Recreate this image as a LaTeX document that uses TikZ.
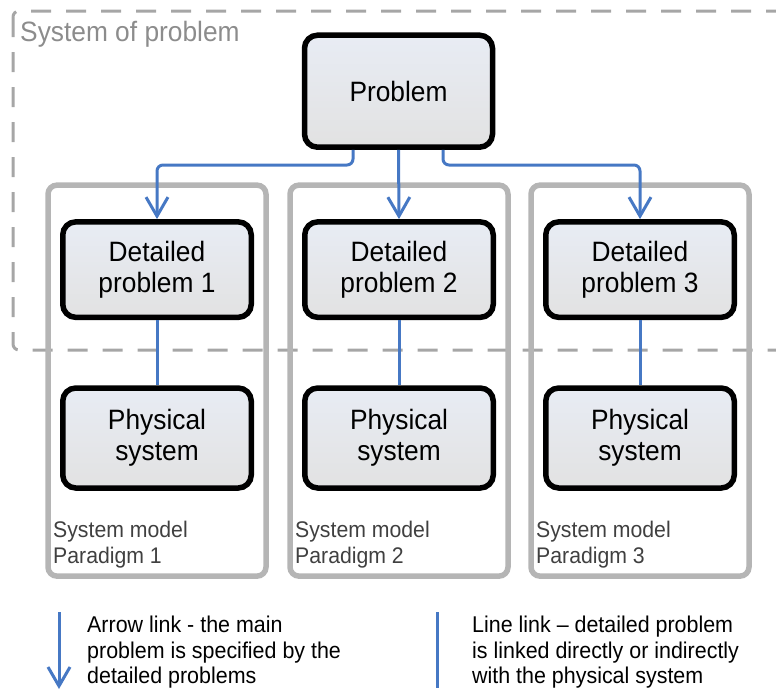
\documentclass[tikz,border=0pt]{standalone}
\usepackage{fontspec}
\setmainfont[FakeStretch=0.94]{Liberation Sans}
\usetikzlibrary{shapes,arrows.meta}

\definecolor{linkblue}{RGB}{70,120,196}
\definecolor{sysgrey}{RGB}{166,166,166}
\definecolor{pargrey}{RGB}{181,181,181}
\definecolor{labgrey}{RGB}{64,64,64}

\tikzset{
	mainbox/.style={draw=black, line width=5.5pt, rounded corners=13pt, top color={rgb,255:red,232;green,236;blue,244}, bottom color={rgb,255:red,226;green,226;blue,226}, minimum width=188.5pt, minimum height=95.5pt, align=center, font=\fontsize{28}{31}\selectfont},
	parbox/.style={draw=pargrey, line width=5.5pt, rounded corners=9pt, minimum width=218pt, minimum height=391pt},
	parlabel/.style={anchor=north west, align=left, inner sep=0pt, text=labgrey, font=\fontsize{22.6}{25.5}\selectfont},
	legtext/.style={anchor=north west, align=left, inner sep=0pt, font=\fontsize{22.8}{25.5}\selectfont},
	arrlink/.style={draw=linkblue, line width=3pt, rounded corners=6pt, -{Straight Barb[length=19pt,width=22pt,line width=3pt]}},
	linelink/.style={draw=linkblue, line width=3pt}
}

\begin{document}
\begin{tikzpicture}[x=1pt,y=-1pt]
		\clip (0,0) rectangle (776,691);

		\draw[sysgrey, line width=3pt, dash pattern=on 20pt off 15pt, rounded corners=6pt] (13,11) rectangle (820,350);
		\node[anchor=base west, inner sep=0pt, text={rgb,255:red,140;green,140;blue,140}, font=\fontsize{28}{30}\selectfont] (sysname) at (20,41) {System of problem};

		\foreach \i/\x in {1/157,2/399,3/640}{
			\node[parbox] (par\i) at (\x,380.6) {};
			\node[parlabel] (parlab\i) at (\x-104,521) {System model\\Paradigm \i};
			\node[mainbox] (det\i) at (\x,269.6) {Detailed\\problem \i};
			\node[mainbox, minimum height=100pt] (phy\i) at (\x,438) {Physical\\system};
			\draw[linelink] (det\i.south) -- (phy\i.north);
		}

		\node[mainbox, minimum width=188pt, minimum height=112pt] (prob) at (398.5,91.2) {Problem};

		\coordinate (j1) at (157,165);
		\coordinate (j3) at (640,165);
		\draw[arrlink] ([xshift=-45.5pt]prob.south) |- (j1) -- (det1.north);
		\draw[arrlink] (prob.south) -- (det2.north);
		\draw[arrlink] ([xshift=44.5pt]prob.south) |- (j3) -- (det3.north);

		\coordinate (la1) at (59,612);
		\coordinate (la2) at (59,689);
		\draw[arrlink] (la1) -- (la2);
		\node[legtext] (legarr) at (87,616) {Arrow link - the main\\problem is specified by the\\detailed problems};

		\coordinate (ll1) at (437,612);
		\coordinate (ll2) at (437,688);
		\draw[linelink] (ll1) -- (ll2);
		\node[legtext] (legline) at (472,616) {Line link -- detailed problem\\is linked directly or indirectly\\with the physical system};
\end{tikzpicture}
\end{document}
